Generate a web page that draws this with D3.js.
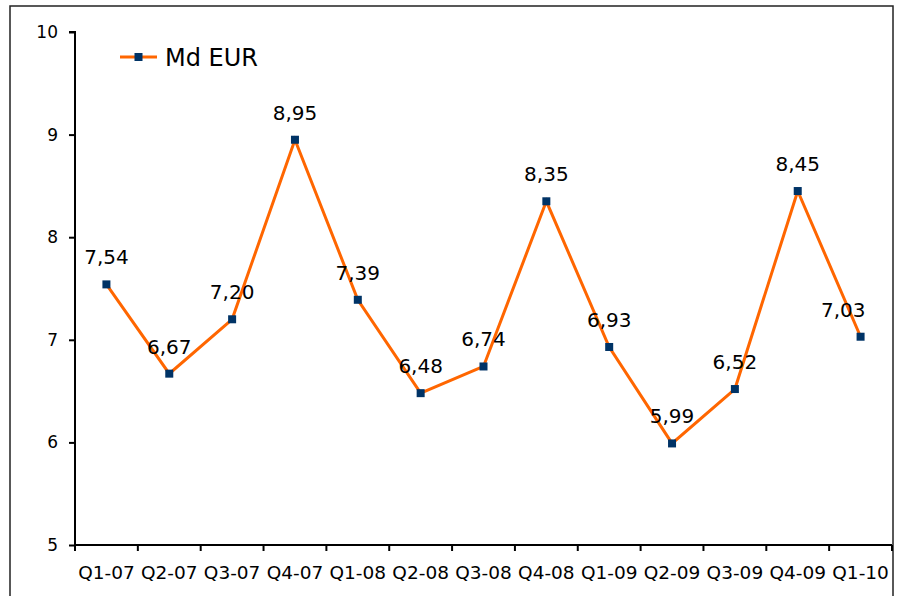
<!DOCTYPE html>
<html>
<head>
<meta charset="utf-8">
<script src="https://cdn.jsdelivr.net/npm/d3@7"></script>
<style>
	body { margin: 0; background: #fff; }
	svg { display: block; font-family: "DejaVu Sans", Verdana, sans-serif; }
</style>
</head>
<body>
<div id="chart"></div>
<script>
var quarters = ['Q1-07', 'Q2-07', 'Q3-07', 'Q4-07', 'Q1-08', 'Q2-08', 'Q3-08',
	'Q4-08', 'Q1-09', 'Q2-09', 'Q3-09', 'Q4-09', 'Q1-10'];
var values = [7.54, 6.67, 7.20, 8.95, 7.39, 6.48, 6.74, 8.35, 6.93, 5.99, 6.52, 8.45, 7.03];
var yTicks = [5, 6, 7, 8, 9, 10];
var seriesName = 'Md EUR';

var width = 904, height = 596;
var plotLeft = 75, plotRight = 892, plotTop = 32, plotBottom = 545;
var lineColor = '#ff6600', markColor = '#003366';

var svg = d3.select('#chart')
	.append('svg')
	.attr('width', width)
	.attr('height', height);

// outer frame
svg.append('rect')
	.attr('x', 10).attr('y', 6)
	.attr('width', 883).attr('height', 600)
	.attr('fill', 'none')
	.attr('stroke', '#222')
	.attr('stroke-width', 1.5);

var x = d3.scaleBand().domain(quarters).range([plotLeft, plotRight]);
var y = d3.scaleLinear().domain([5, 10]).range([plotBottom, plotTop]);

// y axis
var yAxis = svg.append('g')
	.attr('transform', 'translate(' + plotLeft + ',0)')
	.call(d3.axisLeft(y).tickValues(yTicks).tickFormat(d3.format('d')).tickSize(6).tickPadding(11));
yAxis.select('.domain').attr('d', 'M-6,' + plotTop + 'H0V' + plotBottom);
yAxis.selectAll('.tick text').style('font-size', '17px');

// x axis, ticks between categories
var xAxis = svg.append('g')
	.attr('transform', 'translate(0,' + plotBottom + ')')
	.call(d3.axisBottom(x).tickSize(0).tickPadding(21));
xAxis.select('.domain').attr('d', 'M' + plotLeft + ',0H' + plotRight);
xAxis.selectAll('.tick text').style('font-size', '18.5px');
xAxis.selectAll('.sep')
	.data(d3.range(quarters.length + 1))
	.enter()
	.append('line')
	.attr('class', 'sep')
	.attr('x1', function (i) { return plotLeft + i * x.step(); })
	.attr('x2', function (i) { return plotLeft + i * x.step(); })
	.attr('y1', 0).attr('y2', 6);

// let the axes use the page font
svg.selectAll('g').attr('font-family', null).attr('font-size', null);
svg.selectAll('.domain, .tick line, .sep').attr('stroke', '#000').attr('stroke-width', 2);
svg.selectAll('.tick text').attr('fill', '#000');

function cx(i) { return x(quarters[i]) + x.bandwidth() / 2; }

var line = d3.line()
	.x(function (d, i) { return cx(i); })
	.y(function (d) { return y(d); });

svg.append('path')
	.datum(values)
	.attr('d', line)
	.attr('fill', 'none')
	.attr('stroke', lineColor)
	.attr('stroke-width', 3);

svg.selectAll('.pt')
	.data(values)
	.enter()
	.append('rect')
	.attr('class', 'pt')
	.attr('x', function (d, i) { return cx(i) - 4; })
	.attr('y', function (d) { return y(d) - 4; })
	.attr('width', 8).attr('height', 8)
	.attr('fill', markColor);

svg.selectAll('.lbl')
	.data(values)
	.enter()
	.append('text')
	.attr('class', 'lbl')
	.attr('x', function (d, i) { return i === values.length - 1 ? cx(i) + 5 : cx(i); })
	.attr('y', function (d) { return y(d) - 20; })
	.attr('text-anchor', function (d, i) { return i === values.length - 1 ? 'end' : 'middle'; })
	.style('font-size', '20px')
	.text(function (d) { return d.toFixed(2).replace('.', ','); });

// legend
var legend = svg.append('g').attr('transform', 'translate(120,57)');
legend.append('line')
	.attr('x1', 0).attr('x2', 37)
	.attr('stroke', lineColor).attr('stroke-width', 3);
legend.append('rect')
	.attr('x', 14.5).attr('y', -4)
	.attr('width', 8).attr('height', 8)
	.attr('fill', markColor);
legend.append('text')
	.attr('x', 45).attr('y', 9)
	.style('font-size', '24px')
	.text(seriesName);
</script>
</body>
</html>
